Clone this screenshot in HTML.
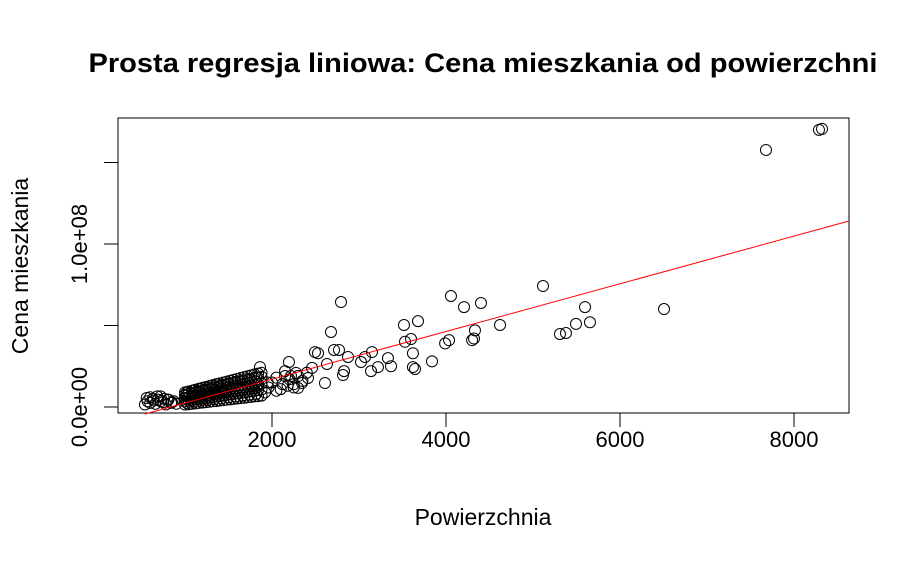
<!DOCTYPE html>
<html><head><meta charset="utf-8">
<style>
html,body{margin:0;padding:0;background:#fff;}
svg{display:block;font-family:"Liberation Sans",Arial,sans-serif;}
</style></head>
<body>
<svg id="chart" width="910" height="562" viewBox="0 0 910 562">
<text x="483" y="72" text-anchor="middle" font-size="27" font-weight="bold" textLength="789" lengthAdjust="spacingAndGlyphs">Prosta regresja liniowa: Cena mieszkania od powierzchni</text>
<rect x="118" y="118" width="731" height="295" fill="none" stroke="#000" stroke-width="1"/>
<text x="483" y="525" text-anchor="middle" font-size="23">Powierzchnia</text>
<text transform="translate(28,266) rotate(-90)" text-anchor="middle" font-size="23">Cena mieszkania</text>
<g id="axes"></g>
<g id="points"></g>
<g id="line"></g>
</svg>
<script>
const xTicks=[2000,4000,6000,8000];
const xTickLabels=["2000","4000","6000","8000"];
const yTicks=[0,5e7,1e8,1.5e8];
const yTickLabels=["0.0e+00","","1.0e+08",""];
// area (x) and price in millions (y)
const areaX=[540,570,600,630,660,690,720,750,780,810,840,870,900,560,600,640,680,720,760,800,850,
1000,1000,1000,1000,1000,1040,1040,1040,1040,1040,1080,1080,1080,1080,1080,1120,1120,1120,1120,1120,1160,1160,1160,1160,1160,1200,1200,1200,1200,1200,1240,1240,1240,1240,1240,1280,1280,1280,1280,1280,1320,1320,1320,1320,1320,1360,1360,1360,1360,1360,1400,1400,1400,1400,1400,1440,1440,1440,1440,1440,1480,1480,1480,1480,1480,1520,1520,1520,1520,1520,1560,1560,1560,1560,1560,1600,1600,1600,1600,1600,1640,1640,1640,1640,1640,1680,1680,1680,1680,1680,1720,1720,1720,1720,1720,1760,1760,1760,1760,1760,1800,1800,1800,1800,1800,1840,1840,1840,1840,1840,1880,1880,1880,1880,1880,
1020,1020,1020,1020,1100,1100,1100,1100,1180,1180,1180,1180,1260,1260,1260,1260,1340,1340,1340,1340,1420,1420,1420,1420,1500,1500,1500,1500,1580,1580,1580,1580,1660,1660,1660,1660,1740,1740,1740,1740,1820,1820,1820,1820,
1920,1960,2000,2050,2100,2120,2150,2180,2200,2250,2300,2350,2400,1950,2050,2150,2250,
1862,2195,2218,2276,2299,2345,2414,2460,2494,2529,2609,2632,2678,2713,2770,2793,2816,2828,2874,3023,3069,3138,3149,3218,3333,3368,3517,3529,3598,3620,3620,3644,3678,3839,3990,4035,4057,4207,4300,4322,4333,4402,4621,5115,5310,5379,5494,5598,5655,6506,7678,8287,8322];
const priceM=[1.5,3.5,2.5,5,2,4.5,6.5,3,1.5,4.5,2.5,3.5,2,5.5,6,4,6.5,3.5,5,4.5,3,
1.5,3.5,5.5,7.5,9,1.7,3.8,6,8,9.5,2,4,6.3,8.5,10,2.2,4.5,6.8,9,10.6,2.5,4.8,7.2,9.5,11.2,2.7,5,7.5,10,11.7,3,5.4,8,10.5,12.3,3.2,5.7,8.4,11,12.8,3.5,6,8.8,11.5,13.4,3.7,6.4,9.2,12,14,4,6.7,9.6,12.5,14.5,4.2,7,10,13,15,4.5,7.4,10.4,13.5,15.6,4.7,7.7,10.8,14,16.1,5,8,11.2,14.5,16.7,5.2,8.4,11.6,15,17.2,5.5,8.7,12,15.5,17.8,5.7,9,12.4,16,18.3,6,9.4,12.8,16.5,18.9,6.2,9.7,13.2,17,19.4,6.5,10,13.6,17.5,20,6.7,10.4,14,18,20.5,7,10.7,14.4,18.5,21,
2.6,4.9,7,8.8,3.2,5.6,8,10.2,3.8,6.3,8.8,11,4.3,7,9.7,11.8,4.9,7.7,10.5,12.7,5.4,8.4,11.4,13.6,6,9.1,12.2,14.5,6.5,9.8,13,15.4,7,10.5,13.9,16.3,7.6,11.2,14.7,17.2,8.1,11.9,15.6,18.1,
9,12,15,18,11,14,22,13,17,12,19,16,21,15,10,19,14,
24.5,27.6,19,20.9,11.7,14.7,17.8,24,33.7,33,14.7,26.4,46,35,35,64.4,19.6,22,30.7,27.6,30.7,22,33.7,24.5,30,25,50.3,40,41.7,33,24.5,23.3,52.7,28,39,41,68.1,61.3,41,42,47,63.8,50.3,74.2,44.8,45.4,51,61.3,52,60.1,157.7,170,170.6];
const intercept=-12.2e6, slope=14630;

const ns="http://www.w3.org/2000/svg";
function sx(v){return 98+v*0.087;}
function sy(v){return 407-v*1.63e-6;}
const axes=document.getElementById('axes');
function mk(tag,attrs,parent){const e=document.createElementNS(ns,tag);for(const k in attrs)e.setAttribute(k,attrs[k]);parent.appendChild(e);return e;}
xTicks.forEach((t,i)=>{
  const l=mk('line',{x1:sx(t),x2:sx(t),y1:413,y2:427,stroke:'#000'},axes);
  
  
  const tx=mk('text',{x:sx(t),y:447,'text-anchor':'middle','font-size':'22'},axes);
  tx.textContent=xTickLabels[i];
  
  
});
yTicks.forEach((t,i)=>{
  const l=mk('line',{x1:104,x2:118,y1:sy(t),y2:sy(t),stroke:'#000'},axes);
  
  
  if(yTickLabels[i]){
    const tx=mk('text',{transform:`translate(87,${sy(t)}) rotate(-90)`,'text-anchor':'middle','font-size':'22'},axes);
    tx.textContent=yTickLabels[i];
    
    
  }
});
const pts=document.getElementById('points');
areaX.forEach((x,i)=>{
  const c=mk('circle',{cx:sx(x),cy:sy(priceM[i]*1e6),r:5.5,fill:'none',stroke:'#000','stroke-width':1},pts);
  
  
});
const lx1=540, lx2=(849-98)/0.087;
const ln=mk('line',{x1:sx(lx1),y1:sy(intercept+slope*lx1),x2:sx(lx2),y2:sy(intercept+slope*lx2),stroke:'#ff0000','stroke-width':1},document.getElementById('line'));


</script>
</body></html>
